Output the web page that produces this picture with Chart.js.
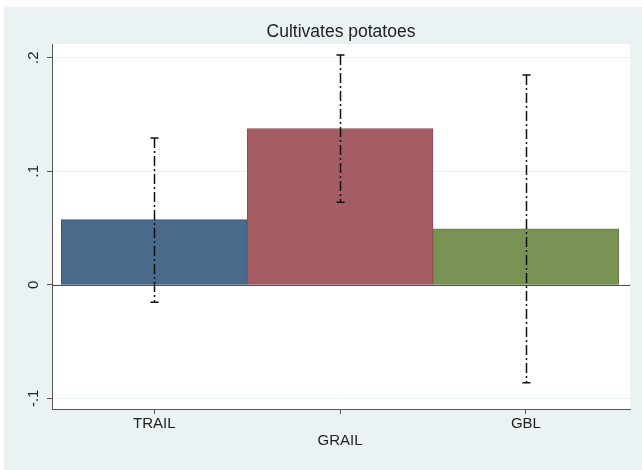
<!DOCTYPE html>
<html>
<head>
<meta charset="utf-8">
<script src="https://cdn.jsdelivr.net/npm/chart.js@4/dist/chart.umd.min.js"></script>
<style>
  html, body { margin: 0; padding: 0; background: #ffffff; }
  #wrap { width: 642px; height: 470px; }
</style>
</head>
<body>
<div id="wrap"><canvas id="chart" width="642" height="470"></canvas></div>
<script>
// Share that cultivates potatoes, by group, with 95% confidence intervals
const categories = ['TRAIL', 'GRAIL', 'GBL'];
const means      = [0.0574, 0.1377, 0.0494];
const ciLow      = [-0.0153, 0.0726, -0.0862];
const ciHigh     = [0.1294, 0.2024, 0.1847];
const barColors  = ['#4a6a8b', '#a35d62', '#789353'];
const barEdges   = ['#3a5878', '#8f4c51', '#637d44'];
const yTickValues = [-0.1, 0, 0.1, 0.2];
const yTickLabels = ['-.1', '0', '.1', '.2'];

const FONT = '"Liberation Sans", Arial, Helvetica, sans-serif';
const BG = '#eaf2f3';
const AXIS = '#555555';
const ZERO = '#d0103a';

// Page frame, light panel and white plot region
const framePlugin = {
  id: 'frame',
  beforeDraw(chart) {
    const { ctx, chartArea: a } = chart;
    ctx.save();
    ctx.fillStyle = '#ffffff';
    ctx.fillRect(0, 0, chart.width, chart.height);
    ctx.fillStyle = BG;
    ctx.fillRect(4, 7, chart.width - 4, chart.height - 7);
    ctx.fillStyle = '#ffffff';
    ctx.fillRect(a.left, a.top, a.right - a.left, a.bottom - a.top);
    ctx.restore();
  }
};

// Reference line at zero, under the bars
const zeroLinePlugin = {
  id: 'zeroLine',
  beforeDatasetsDraw(chart) {
    const { ctx, chartArea: a, scales: { y } } = chart;
    const py = Math.round(y.getPixelForValue(0)) + 0.5;
    ctx.save();
    ctx.setLineDash([]);
    ctx.globalAlpha = 1;
    ctx.strokeStyle = ZERO;
    ctx.lineWidth = 1;
    ctx.beginPath();
    ctx.moveTo(a.left, py);
    ctx.lineTo(a.right, py);
    ctx.stroke();
    ctx.restore();
  }
};

// Dash-dot confidence interval whiskers with caps
const ciPlugin = {
  id: 'ciBars',
  afterDatasetsDraw(chart) {
    const { ctx, scales: { x, y } } = chart;
    ctx.save();
    ctx.strokeStyle = '#111111';
    ctx.lineWidth = 1.5;
    categories.forEach((c, i) => {
      const px = Math.round(x.getPixelForValue(i + 1)) + 0.5;
      const top = y.getPixelForValue(ciHigh[i]);
      const bot = y.getPixelForValue(ciLow[i]);
      ctx.setLineDash([10, 3, 2, 3]);
      ctx.beginPath();
      ctx.moveTo(px, top);
      ctx.lineTo(px, bot);
      ctx.stroke();
      ctx.setLineDash([]);
      ctx.beginPath();
      ctx.moveTo(px - 4, top);
      ctx.lineTo(px + 4, top);
      ctx.moveTo(px - 4, bot);
      ctx.lineTo(px + 4, bot);
      ctx.stroke();
    });
    ctx.restore();
  }
};

new Chart(document.getElementById('chart'), {
  type: 'bar',
  data: {
    datasets: [{
      data: categories.map((c, i) => ({ x: i + 1, y: means[i] })),
      backgroundColor: barColors,
      borderColor: barEdges,
      borderWidth: 1,
      borderSkipped: false,
      categoryPercentage: 1,
      barPercentage: 1
    }]
  },
  options: {
    responsive: false,
    animation: false,
    layout: { padding: { left: 0, right: 12, top: 0, bottom: 0 } },
    plugins: {
      legend: { display: false },
      tooltip: { enabled: false },
      title: {
        display: true,
        text: 'Cultivates potatoes',
        fullSize: false,
        color: '#222222',
        font: { family: FONT, size: 17.5, weight: 'normal', lineHeight: 1.2 },
        padding: { top: 22, bottom: 1 }
      }
    },
    scales: {
      x: {
        type: 'linear',
        offset: false,
        min: 0.45,
        max: 3.56,
        afterBuildTicks(scale) {
          scale.ticks = categories.map((c, i) => ({ value: i + 1 }));
        },
        afterFit(scale) { scale.height = 61; },
        ticks: {
          color: '#222222',
          font: { family: FONT, size: 15, lineHeight: 1.1 },
          padding: 2,
          maxRotation: 0,
          autoSkip: false,
          callback(v) {
            const i = Math.round(v) - 1;
            return i === 1 ? ['', categories[i]] : categories[i];
          }
        },
        grid: { offset: false, drawOnChartArea: false, drawTicks: true, tickLength: 5, tickColor: AXIS },
        border: { display: true, color: AXIS, width: 1 }
      },
      y: {
        min: -0.1094,
        max: 0.2121,
        afterBuildTicks(scale) {
          scale.ticks = yTickValues.map(v => ({ value: v }));
        },
        afterFit(scale) { scale.width = 52; },
        ticks: {
          color: '#222222',
          font: { family: FONT, size: 15 },
          padding: 4,
          minRotation: 90,
          maxRotation: 90,
          crossAlign: 'center',
          callback(v) {
            const i = yTickValues.findIndex(t => Math.abs(t - v) < 1e-9);
            return i >= 0 ? yTickLabels[i] : '';
          }
        },
        grid: { color: BG, lineWidth: 1, drawTicks: true, tickLength: 5, tickColor: AXIS },
        border: { display: true, color: AXIS, width: 1 }
      }
    }
  },
  plugins: [framePlugin, zeroLinePlugin, ciPlugin]
});
</script>
</body>
</html>
